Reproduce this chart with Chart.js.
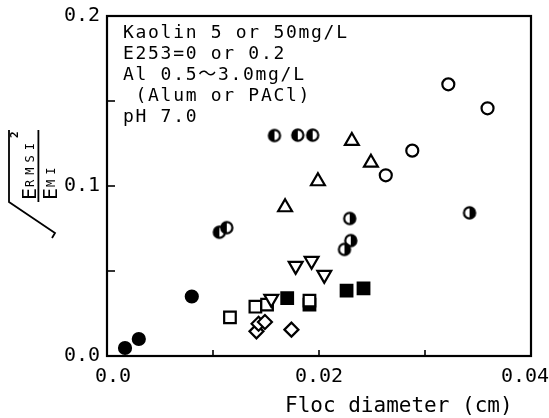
<!DOCTYPE html>
<html>
<head>
<meta charset="utf-8">
<script src="https://cdn.jsdelivr.net/npm/chart.js@4.4.1/dist/chart.umd.min.js"></script>
<style>
  html, body { margin: 0; padding: 0; background: #fff; }
  #wrap { width: 549px; height: 418px; }
</style>
</head>
<body>
<div id="wrap"><canvas id="chart" width="549" height="418"></canvas></div>
<script>
// floc diameter (cm) against sqrt(E_RMSI^2)/E_MI, one pair of arrays per marker
const solidX = [0.0017, 0.0030, 0.0080];
const solidY = [0.0047, 0.0100, 0.0350];

const halfLeftX = [0.0158, 0.0180, 0.0194, 0.0106, 0.0113];
const halfLeftY = [0.1297, 0.1299, 0.1299, 0.0728, 0.0755];

const halfRightX = [0.0229, 0.0230, 0.0224, 0.0342];
const halfRightY = [0.0809, 0.0679, 0.0627, 0.0842];

const openCircleX = [0.0322, 0.0359, 0.0288, 0.0263];
const openCircleY = [0.1598, 0.1457, 0.1208, 0.1063];

const triUpX = [0.0231, 0.0249, 0.0199, 0.0168];
const triUpY = [0.1265, 0.1137, 0.1028, 0.0875];

const triDownX = [0.0178, 0.0193, 0.0205, 0.0155];
const triDownY = [0.0530, 0.0560, 0.0477, 0.0336];

const openSquareX = [0.0116, 0.0140, 0.0151, 0.0191];
const openSquareY = [0.0227, 0.0290, 0.0302, 0.0326];

const solidSquareX = [0.0170, 0.0191, 0.0226, 0.0242];
const solidSquareY = [0.0340, 0.0302, 0.0385, 0.0398];

const diamondX = [0.0141, 0.0143, 0.0149, 0.0174];
const diamondY = [0.0145, 0.0190, 0.0200, 0.0155];

// padded with spaces so they sit like in the original print
const xTicks = [' 0.0', '0.02', '0.04 '];
const yTicks = ['0.0', '0.1', '0.2'];

const notes = ['Kaolin 5 or 50mg/L', 'E253=0 or 0.2', 'Al 0.5～3.0mg/L', ' (Alum or PACl)', 'pH 7.0'];
const xTitle = 'Floc diameter (cm)';

const MONO = "'DejaVu Sans Mono', 'Noto Sans CJK JP', monospace";

function pts(xs, ys) {
    return xs.map((x, i) => ({ x: x, y: ys[i] }));
}

// half filled circle used as a point image
function halfCircle(side) {
    const c = document.createElement('canvas');
    c.width = 16; c.height = 16;
    const g = c.getContext('2d');
    g.fillStyle = '#fff';
    g.beginPath(); g.arc(8, 8, 5.6, 0, 2 * Math.PI); g.fill();
    g.fillStyle = '#000';
    g.beginPath();
    if (side === 'left') g.arc(8, 8, 5.6, Math.PI / 2, 3 * Math.PI / 2);
    else g.arc(8, 8, 5.6, -Math.PI / 2, Math.PI / 2);
    g.closePath(); g.fill();
    g.lineWidth = 2.2; g.strokeStyle = '#000';
    g.beginPath(); g.arc(8, 8, 5.6, 0, 2 * Math.PI); g.stroke();
    return c;
}

function set(xs, ys, style, radius, fill, extra) {
    return Object.assign({
        data: pts(xs, ys),
        pointStyle: style,
        pointRadius: radius,
        pointHoverRadius: radius,
        pointBackgroundColor: fill,
        pointBorderColor: '#000',
        pointBorderWidth: 2.2,
        showLine: false
    }, extra || {});
}

// frame, inward ticks, notes and axis titles
const decor = {
    id: 'decor',
    beforeDatasetsDraw(chart) {
        const { ctx, chartArea: a, scales: { x, y } } = chart;
        ctx.save();
        ctx.strokeStyle = '#000';
        ctx.lineWidth = 2.2;
        ctx.strokeRect(a.left, a.top, a.right - a.left, a.bottom - a.top);
        ctx.lineWidth = 1.6;
        x.ticks.forEach(t => {
            const px = x.getPixelForValue(t.value);
            ctx.beginPath(); ctx.moveTo(px, a.bottom); ctx.lineTo(px, a.bottom - 6); ctx.stroke();
        });
        y.ticks.forEach(t => {
            const py = y.getPixelForValue(t.value);
            ctx.beginPath(); ctx.moveTo(a.left, py); ctx.lineTo(a.left + 8, py); ctx.stroke();
        });
        ctx.restore();
    },
    afterDraw(chart) {
        const { ctx, chartArea: a } = chart;
        ctx.save();
        ctx.fillStyle = '#000';
        ctx.textBaseline = 'alphabetic';
        ctx.textAlign = 'left';

        // notes in the upper left corner
        ctx.font = '18px ' + MONO;
        ctx.letterSpacing = '1.7px';
        notes.forEach((line, i) => ctx.fillText(line, a.left + 16, a.top + 22 + 21 * i));

        // x title
        ctx.font = '21px ' + MONO;
        ctx.letterSpacing = '0px';
        ctx.fillText(xTitle, 285, 412);

        // y title: sqrt(E_RMSI^2 / E_MI), rotated
        ctx.save();
        ctx.translate(0, 202);
        ctx.rotate(-Math.PI / 2);
        ctx.font = '20px ' + MONO;
        ctx.fillText('E', 2, 36);
        ctx.fillText('E', 2, 57);
        ctx.font = '12px ' + MONO;
        ctx.letterSpacing = '5px';
        ctx.fillText('RMSI', 15, 34);
        ctx.fillText('MI', 15, 55);
        ctx.letterSpacing = '0px';
        ctx.font = 'bold 11px ' + MONO;
        ctx.fillText('2', 64, 18);
        ctx.fillRect(0, 37.5, 72, 1.8);
        ctx.restore();

        ctx.lineWidth = 1.8;
        ctx.beginPath();
        ctx.moveTo(9, 130);
        ctx.lineTo(9, 202);
        ctx.lineTo(55, 233);
        ctx.lineTo(52, 238);
        ctx.stroke();
        ctx.restore();
    }
};

new Chart(document.getElementById('chart'), {
    type: 'scatter',
    data: {
        datasets: [
            set(solidX, solidY, 'circle', 6, '#000'),
            set(halfLeftX, halfLeftY, halfCircle('left'), 6, '#000'),
            set(halfRightX, halfRightY, halfCircle('right'), 6, '#000'),
            set(openCircleX, openCircleY, 'circle', 6, '#fff'),
            set(triUpX, triUpY, 'triangle', 8, '#fff'),
            set(triDownX, triDownY, 'triangle', 8, '#fff', { pointRotation: 180 }),
            set(openSquareX, openSquareY, 'rect', 8.2, '#fff'),
            set(solidSquareX, solidSquareY, 'rect', 8.2, '#000'),
            set(diamondX, diamondY, 'rectRot', 7, '#fff')
        ]
    },
    options: {
        responsive: false,
        animation: false,
        events: [],
        layout: { padding: { top: 16, right: 18, left: 0, bottom: 0 } },
        plugins: { legend: { display: false }, tooltip: { enabled: false } },
        scales: {
            x: {
                type: 'linear', min: 0, max: 0.04,
                grid: { display: false, drawTicks: false },
                border: { display: false },
                ticks: {
                    stepSize: 0.01, autoSkip: false, maxRotation: 0, padding: 9,
                    color: '#000', font: { family: MONO, size: 20 },
                    callback: v => {
                        const k = Math.round(v * 100);
                        return k % 2 === 0 ? xTicks[k / 2] : '';
                    }
                },
                afterFit: s => { s.height = 62; s.paddingLeft = 0; s.paddingRight = 0; }
            },
            y: {
                type: 'linear', min: 0, max: 0.2,
                grid: { display: false, drawTicks: false },
                border: { display: false },
                ticks: {
                    stepSize: 0.05, autoSkip: false, padding: 7,
                    color: '#000', font: { family: MONO, size: 20 },
                    callback: v => {
                        const k = Math.round(v * 20);
                        return k % 2 === 0 ? yTicks[k / 2] : '';
                    }
                },
                afterFit: s => { s.width = 107; s.paddingTop = 0; s.paddingBottom = 0; }
            }
        }
    },
    plugins: [decor]
});
</script>
</body>
</html>
